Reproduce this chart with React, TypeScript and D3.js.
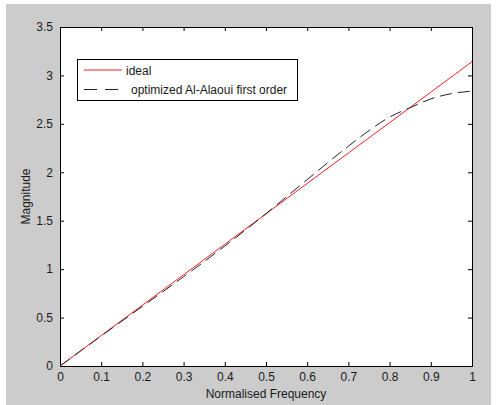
import React, { useEffect, useRef } from "react";
import * as d3 from "d3";

const WIDTH = 500;
const HEIGHT = 405;

// normalised frequency samples
const idealFreq = [0, 0.1, 0.2, 0.3, 0.4, 0.5, 0.6, 0.7, 0.8, 0.9, 1.0];
const idealMag = [0, 0.314, 0.628, 0.942, 1.257, 1.571, 1.885, 2.199, 2.513, 2.827, 3.142];

const alaouiFreq = [0, 0.05, 0.1, 0.15, 0.2, 0.25, 0.3, 0.35, 0.4, 0.45, 0.5, 0.55, 0.6, 0.65, 0.7, 0.75, 0.8, 0.85, 0.9, 0.95, 1.0];
const alaouiMag = [0, 0.155, 0.31, 0.463, 0.615, 0.768, 0.922, 1.078, 1.238, 1.403, 1.573, 1.748, 1.925, 2.1, 2.27, 2.43, 2.57, 2.667, 2.757, 2.812, 2.838];

const xTicks = [0, 0.1, 0.2, 0.3, 0.4, 0.5, 0.6, 0.7, 0.8, 0.9, 1];
const yTicks = [0, 0.5, 1, 1.5, 2, 2.5, 3, 3.5];

const legendLabels = ["ideal", "optimized Al-Alaoui first order"];

const FONT = "'Liberation Sans', Arial, sans-serif";
const FONT_SIZE = 12;

export default function App() {
  const ref = useRef<SVGSVGElement>(null);

  useEffect(() => {
    const svg = d3.select(ref.current);
    svg.selectAll("*").remove();

    let margin = { left: 60, right: 472, top: 27, bottom: 366 };

    svg.append("rect").attr("width", WIDTH).attr("height", HEIGHT).attr("fill", "#ffffff");
    svg.append("rect")
      .attr("x", 6).attr("y", 4)
      .attr("width", 485).attr("height", HEIGHT - 4)
      .attr("fill", "#cccccc");

    svg.append("rect")
      .attr("x", margin.left).attr("y", margin.top)
      .attr("width", margin.right - margin.left).attr("height", margin.bottom - margin.top)
      .attr("fill", "#ffffff");

    let x = d3.scaleLinear().domain([0, 1]).range([margin.left, margin.right]);
    let y = d3.scaleLinear().domain([0, 3.5]).range([margin.bottom, margin.top]);

    // bottom + top axes, ticks pointing inwards
    let bottom = svg.append("g").attr("transform", "translate(0," + margin.bottom + ")")
      .call(d3.axisBottom(x).tickValues(xTicks).tickSize(-4).tickPadding(6).tickFormat(d3.format("")));
    let top = svg.append("g").attr("transform", "translate(0," + margin.top + ")")
      .call(d3.axisTop(x).tickValues(xTicks).tickSize(-4).tickFormat(() => ""));
    let left = svg.append("g").attr("transform", "translate(" + margin.left + ",0)")
      .call(d3.axisLeft(y).tickValues(yTicks).tickSize(-4).tickPadding(7).tickFormat(d3.format("")));
    let right = svg.append("g").attr("transform", "translate(" + margin.right + ",0)")
      .call(d3.axisRight(y).tickValues(yTicks).tickSize(-4).tickFormat(() => ""));

    for (let g of [bottom, top, left, right]) {
      g.select(".domain").remove();
      g.selectAll("line").attr("stroke", "#000");
      g.selectAll("text")
        .attr("font-family", FONT)
        .attr("font-size", FONT_SIZE)
        .attr("fill", "#1a1a1a");
    }
    bottom.selectAll("text").attr("dy", "0.71em");

    // axes box
    svg.append("rect")
      .attr("x", margin.left + 0.5).attr("y", margin.top + 0.5)
      .attr("width", margin.right - margin.left).attr("height", margin.bottom - margin.top)
      .attr("fill", "none").attr("stroke", "#000").attr("stroke-width", 1);

    let line = d3.line<[number, number]>().x(d => x(d[0])).y(d => y(d[1]));

    svg.append("path")
      .datum(idealFreq.map((f, i) => [f, idealMag[i]] as [number, number]))
      .attr("d", line)
      .attr("fill", "none")
      .attr("stroke", "#ff2020")
      .attr("stroke-width", 1);

    svg.append("path")
      .datum(alaouiFreq.map((f, i) => [f, alaouiMag[i]] as [number, number]))
      .attr("d", line.curve(d3.curveMonotoneX))
      .attr("fill", "none")
      .attr("stroke", "#222")
      .attr("stroke-width", 1)
      .attr("stroke-dasharray", "12,6");

    // legend
    let legend = svg.append("g");
    legend.append("rect")
      .attr("x", 77.5).attr("y", 59.5).attr("width", 220).attr("height", 41)
      .attr("fill", "#ffffff").attr("stroke", "#000");
    let styles = [
      { stroke: "#ff2020", dash: null, ly: 70, ty: 75, tx: 126 },
      { stroke: "#222", dash: "13,8", ly: 89.5, ty: 94, tx: 131 }
    ];
    legendLabels.forEach((label, i) => {
      let s = styles[i];
      legend.append("line")
        .attr("x1", 84).attr("x2", 122).attr("y1", s.ly).attr("y2", s.ly)
        .attr("stroke", s.stroke).attr("stroke-width", 1)
        .attr("stroke-dasharray", s.dash);
      legend.append("text")
        .attr("x", s.tx).attr("y", s.ty)
        .attr("font-family", FONT).attr("font-size", FONT_SIZE).attr("fill", "#1a1a1a")
        .text(label);
    });

    svg.append("text")
      .attr("x", (margin.left + margin.right) / 2).attr("y", 398)
      .attr("text-anchor", "middle")
      .attr("font-family", FONT).attr("font-size", FONT_SIZE).attr("fill", "#1a1a1a")
      .text("Normalised Frequency");

    svg.append("text")
      .attr("transform", "translate(30," + (margin.top + margin.bottom) / 2 + ") rotate(-90)")
      .attr("text-anchor", "middle")
      .attr("font-family", FONT).attr("font-size", FONT_SIZE).attr("fill", "#1a1a1a")
      .text("Magnitude");
  }, []);

  return <div style={{ position: "absolute", left: 0, top: 0 }}>
    <svg ref={ref} width={WIDTH} height={HEIGHT} style={{ display: "block" }}></svg>
  </div>;
}
